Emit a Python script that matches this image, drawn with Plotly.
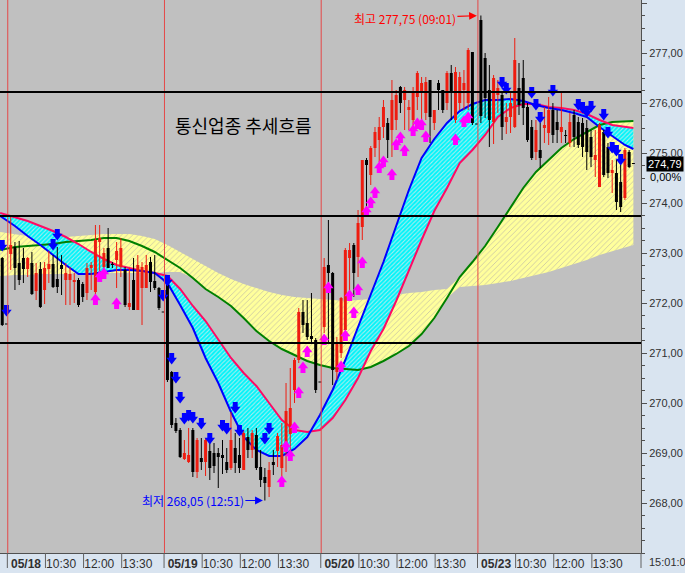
import plotly.graph_objects as go

# ---------------- data (10-minute bars; slot 0 = 05/18 09:00, 37 bars per day) ----------------
slots = list(range(-2, 148))

open_ = [
    272.90, 271.58,
    # 05/18
    272.98, 273.12, 272.80, 272.90, 272.68, 272.80, 272.24, 272.68, 272.26, 272.68, 272.78, 272.48,
    272.76, 272.46, 272.46, 272.42, 272.46, 272.38, 272.20, 272.70, 272.22, 273.22, 272.72, 273.10,
    272.78, 272.86, 272.72, 272.66, 271.92, 272.46, 271.86, 272.30, 272.30, 272.82, 272.44, 272.30, 271.82,
    # 05/19
    272.42, 270.62, 269.60, 269.46, 268.88, 268.82, 269.46, 268.62, 268.90, 268.82, 269.04, 269.00,
    269.00, 268.96, 268.82, 268.70, 269.10, 268.96, 268.66, 269.32, 269.06, 269.36, 268.72, 268.52,
    268.32, 268.82, 269.04, 268.70, 269.16, 269.38, 270.26, 270.86, 271.82, 271.60, 271.34, 271.26, 270.42,
    # 05/20
    271.52, 272.76, 272.60, 270.62, 271.00, 271.46, 272.90, 273.16, 272.92, 273.52, 274.86, 274.56,
    275.10, 275.26, 275.52, 275.60, 275.46, 275.66, 276.32, 276.06, 275.86, 275.66, 276.12, 276.20,
    275.80, 276.46, 275.60, 276.40, 276.26, 276.00, 276.60, 275.66, 276.00, 276.26, 276.00, 277.02, 275.58,
    # 05/23
    277.66, 276.90, 276.26, 275.62, 276.16, 276.16, 275.62, 275.72, 275.52, 276.30, 276.50, 275.92,
    275.52, 275.02, 275.06, 275.50, 275.40, 275.86, 275.62, 275.42, 275.36, 275.20, 275.76, 275.62,
    275.60, 275.50, 275.32, 274.86, 274.32, 275.42, 275.12, 274.60, 274.60, 274.42, 274.10, 275.02, 274.79,
]
high = [
    272.92, 271.58,
    273.72, 273.22, 273.24, 273.10, 272.92, 273.02, 272.80, 272.82, 272.82, 273.04, 272.96, 273.12,
    272.96, 272.80, 272.72, 272.60, 272.50, 272.42, 272.80, 272.82, 273.56, 273.56, 273.10, 273.50,
    272.82, 273.22, 273.30, 272.72, 272.70, 272.90, 272.96, 272.82, 272.96, 272.92, 272.96, 272.32, 271.82,
    272.46, 270.64, 269.70, 269.50, 269.26, 269.50, 269.50, 269.30, 269.30, 269.30, 269.30, 269.20,
    269.10, 269.26, 269.10, 269.82, 269.40, 269.30, 269.46, 269.50, 269.46, 269.50, 269.06, 268.70,
    268.82, 269.06, 269.40, 269.60, 270.40, 270.70, 270.90, 271.90, 272.06, 272.06, 272.20, 271.30, 270.42,
    272.90, 273.66, 272.62, 271.32, 272.12, 273.10, 273.20, 273.20, 273.86, 274.86, 274.90, 275.14,
    275.52, 275.72, 276.06, 275.70, 276.46, 276.26, 276.34, 276.32, 276.06, 276.32, 276.64, 276.52,
    276.52, 276.46, 275.86, 276.46, 276.26, 276.64, 276.76, 276.72, 276.62, 276.66, 277.10, 277.02, 275.58,
    277.75, 277.00, 276.76, 276.56, 276.46, 276.20, 276.00, 276.22, 277.30, 276.80, 276.86, 276.00,
    275.66, 275.66, 275.60, 275.92, 276.12, 276.00, 275.86, 276.20, 275.46, 275.80, 275.86, 275.72,
    275.70, 275.66, 275.46, 275.46, 275.60, 275.46, 275.20, 274.86, 274.86, 274.76, 275.10, 275.06, 274.79,
]
low = [
    271.54, 271.58,
    272.66, 272.26, 272.36, 272.40, 272.52, 272.16, 272.06, 271.90, 271.98, 272.40, 272.30, 272.20,
    272.16, 271.96, 271.96, 272.00, 271.92, 272.02, 272.06, 272.26, 272.16, 272.62, 272.52, 272.70,
    272.70, 272.30, 272.52, 271.92, 271.86, 271.86, 271.86, 271.56, 272.30, 272.22, 272.26, 271.86, 271.82,
    270.42, 269.50, 269.40, 268.90, 268.86, 268.80, 268.52, 268.50, 268.66, 268.54, 268.46, 268.60,
    268.30, 268.58, 268.60, 268.66, 268.60, 268.60, 268.66, 268.90, 268.90, 268.66, 268.32, 268.05,
    268.12, 268.56, 268.72, 268.36, 268.62, 268.90, 270.00, 270.80, 271.40, 271.26, 271.20, 270.20, 270.42,
    271.40, 271.20, 270.36, 270.46, 270.90, 271.30, 272.12, 272.12, 272.52, 273.26, 273.80, 274.36,
    274.92, 274.82, 275.30, 274.90, 274.92, 275.46, 275.80, 275.46, 275.46, 275.40, 275.86, 275.66,
    275.66, 275.20, 275.46, 275.86, 275.80, 275.86, 275.66, 275.60, 275.86, 275.86, 275.86, 275.56, 275.58,
    275.60, 275.70, 275.12, 275.18, 275.80, 275.26, 275.38, 275.40, 275.50, 275.76, 275.56, 275.22,
    274.86, 274.86, 274.70, 275.20, 275.16, 275.20, 275.20, 275.20, 275.20, 275.12, 275.12, 275.10,
    274.92, 274.66, 274.72, 274.52, 274.32, 274.52, 274.50, 274.20, 273.86, 273.82, 274.06, 274.70, 274.79,
]
close = [
    271.56, 271.58,
    273.16, 272.70, 272.46, 272.68, 272.90, 272.18, 272.60, 271.92, 272.70, 272.78, 272.32, 272.32,
    272.68, 272.60, 272.58, 272.46, 271.96, 272.12, 272.70, 272.76, 273.26, 273.30, 273.00, 272.70,
    272.76, 273.04, 273.10, 271.96, 272.00, 271.86, 272.76, 272.72, 272.76, 272.42, 272.30, 271.90, 271.82,
    270.46, 269.56, 269.44, 268.92, 269.00, 268.96, 268.62, 269.26, 268.82, 269.26, 268.70, 268.74,
    268.92, 268.90, 268.66, 269.26, 268.80, 268.70, 269.40, 269.06, 269.40, 268.70, 268.46, 268.40,
    268.66, 268.76, 269.34, 269.16, 269.84, 269.90, 270.86, 271.82, 271.56, 271.32, 271.28, 270.26, 270.42,
    272.72, 272.60, 270.66, 271.22, 272.10, 273.06, 273.06, 272.60, 273.60, 274.86, 274.76, 275.10,
    275.42, 275.52, 275.92, 275.26, 276.06, 276.16, 276.00, 276.26, 275.92, 276.20, 276.60, 276.40,
    276.42, 275.72, 275.86, 276.26, 275.86, 276.60, 276.20, 276.62, 276.52, 276.40, 277.06, 275.60, 275.58,
    275.74, 276.10, 275.66, 276.50, 276.30, 275.52, 275.72, 276.00, 276.86, 275.96, 275.90, 275.26,
    274.90, 275.46, 274.90, 275.56, 275.86, 275.36, 275.46, 275.52, 275.34, 275.62, 275.32, 275.16,
    275.12, 275.02, 274.92, 274.96, 275.56, 274.56, 274.60, 274.66, 274.02, 273.92, 275.06, 274.72, 274.79,
]

# indicator lines read at every third slot
line_x = [-2.5, 1, 4, 7, 10, 13, 16, 19, 22, 25, 28, 31, 34, 37, 40, 43, 46, 49, 52, 55, 58, 61, 64, 67,
          70, 73, 76, 79, 82, 85, 88, 91, 94, 97, 100, 103, 106, 109, 112, 115, 118, 121, 124, 127,
          130, 133, 136, 139, 142, 145, 147]
ma_red = [273.80, 273.72, 273.64, 273.54, 273.44, 273.32, 273.18, 273.02, 272.88, 272.76, 272.70, 272.64, 272.60,
          272.54, 272.28, 271.94, 271.64, 271.26, 270.90, 270.60, 270.34, 270.00, 269.66, 269.46, 269.42, 269.46,
          269.70, 270.06, 270.50, 271.04, 271.48, 272.04, 272.66, 273.26, 273.84, 274.30, 274.80, 275.06,
          275.36, 275.72, 275.90, 275.98, 275.98, 275.92, 275.90, 275.86, 275.78, 275.66, 275.56, 275.52,
          275.50]
ma_blue = [273.74, 273.54, 273.34, 273.16, 272.96, 272.76, 272.58, 272.58, 272.62, 272.66, 272.66, 272.64, 272.60,
           272.40, 271.96, 271.50, 270.90, 270.40, 269.82, 269.32, 269.06, 268.94, 268.94, 269.08, 269.32, 269.76,
           270.26, 270.86, 271.52, 272.18, 272.82, 273.54, 274.26, 274.90, 275.28, 275.60, 275.84, 275.98,
           276.06, 276.06, 276.08, 276.04, 275.96, 275.90, 275.86, 275.80, 275.72, 275.52, 275.34, 275.16,
           275.08]
ma_green = [273.06, 273.12, 273.14, 273.16, 273.18, 273.22, 273.24, 273.26, 273.30, 273.30, 273.24, 273.14, 273.02,
            272.86, 272.70, 272.50, 272.28, 272.12, 271.94, 271.70, 271.44, 271.24, 271.08, 270.96, 270.84, 270.76,
            270.70, 270.68, 270.66, 270.72, 270.84, 270.98, 271.14, 271.38, 271.70, 272.10, 272.52, 272.82,
            273.14, 273.52, 273.90, 274.30, 274.62, 274.86, 275.10, 275.28, 275.42, 275.56, 275.62, 275.64,
            275.64]
band_upper = [273.42, 273.38, 273.34, 273.30, 273.30, 273.32, 273.34, 273.36, 273.38, 273.38, 273.38, 273.34, 273.28,
              273.16, 273.02, 272.88, 272.74, 272.60, 272.48, 272.38, 272.30, 272.22, 272.16, 272.12, 272.10, 272.08,
              272.06, 272.04, 272.06, 272.08, 272.12, 272.16, 272.20, 272.22, 272.26, 272.28, 272.52, 272.82,
              273.14, 273.52, 273.90, 274.30, 274.62, 274.86, 275.10, 275.28, 275.42, 275.56, 275.62, 275.64,
              275.64]
band_lower = [272.54, 272.56, 272.56, 272.58, 272.58, 272.58, 272.60, 272.60, 272.60, 272.60, 272.60, 272.60, 272.60,
              272.62, 272.62, 272.50, 272.28, 272.12, 271.94, 271.70, 271.44, 271.24, 271.08, 270.96, 270.84, 270.76,
              270.70, 270.68, 270.66, 270.72, 270.84, 270.98, 271.14, 271.38, 271.70, 272.10, 272.32, 272.34,
              272.36, 272.40, 272.44, 272.50, 272.56, 272.62, 272.70, 272.78, 272.86, 272.96, 273.04, 273.12,
              273.16]

# signals
sell_x = [-2, -1, 10, 11, 36, 37, 38, 39, 40, 41, 42, 43, 45, 47, 50, 51, 53, 54, 60, 61,
          116, 117, 123, 124, 125, 128, 134, 135, 136, 137, 140, 141, 142, 143, 144]
sell_y = [273.16, 271.86, 273.18, 273.38, 272.16, 272.46, 270.90, 270.52, 270.12, 269.70, 269.76, 269.72,
          269.60, 269.30, 269.56, 269.50, 269.92, 269.46, 269.30, 269.50,
          276.42, 276.30, 276.22, 275.98, 275.72, 276.26, 275.98, 275.92, 275.84, 275.94, 275.78, 275.42,
          275.12, 275.06, 274.88]
buy_x = [20, 21, 22, 25, 64, 65, 66, 67, 68, 69, 70, 74, 75, 78, 79, 80, 81, 82, 83, 84, 85, 86, 87, 88,
         90, 91, 92, 93, 95, 96, 97, 98, 105, 107, 108]
buy_y = [272.06, 272.52, 272.58, 271.98, 268.42, 269.12, 268.94, 269.50, 270.20, 270.70, 271.02, 271.26,
         272.30, 270.72, 271.34, 272.14, 271.80, 272.26, 272.80, 273.82, 274.00, 274.20, 274.70, 274.82,
         274.56, 275.16, 275.30, 275.04, 275.44, 275.58, 275.56, 275.32, 275.26, 275.62, 275.70]

level_lines = [276.22, 273.74, 271.20]
day_labels = ["05/18", "05/19", "05/20", "05/23"]
time_labels = ["10:30", "12:00", "13:30"]
price_ticks = [268, 269, 270, 271, 272, 273, 274, 275, 276, 277, 278]
title_text = "통신업종 추세흐름"
high_time, low_time = "09:01", "12:51"
last_price, last_change = 274.79, "0,00%"
clock_text = "15:01:0"

# ---------------- figure ----------------
BARS = 37
Y0, Y1 = 267.0, 278.06
X0, X1 = -2.53, 148.8
PLOT_H = 553
ppp = (Y1 - Y0) / PLOT_H

fig = go.Figure()
nol = dict(width=0, color="rgba(0,0,0,0)")

fig.add_trace(go.Scatter(x=line_x, y=band_upper, mode="lines", line=nol, hoverinfo="skip"))
fig.add_trace(go.Scatter(x=line_x, y=band_lower, mode="lines", line=nol, fill="tonexty",
                         fillpattern=dict(shape="/", bgcolor="#ffff9c", fgcolor="#c8c4a4", size=4, solidity=0.2),
                         hoverinfo="skip"))
fig.add_trace(go.Scatter(x=line_x, y=ma_red, mode="lines", line=nol, hoverinfo="skip"))
fig.add_trace(go.Scatter(x=line_x, y=ma_blue, mode="lines", line=nol, fill="tonexty",
                         fillpattern=dict(shape="/", bgcolor="#00f4fa", fgcolor="#a8eeee", size=3, solidity=0.35),
                         hoverinfo="skip"))

fig.add_trace(go.Scatter(x=line_x, y=ma_green, mode="lines", line=dict(color="#008000", width=2)))
fig.add_trace(go.Scatter(x=line_x, y=ma_red, mode="lines", line=dict(color="#ff0a64", width=2)))
fig.add_trace(go.Scatter(x=line_x, y=ma_blue, mode="lines", line=dict(color="#0000ff", width=2)))

# candles
parts = {k: ([], []) for k in ("rw", "rb", "kw", "kb")}
for s, o, h, l, c in zip(slots, open_, high, low, close):
    up = c > o
    w = parts["rw" if up else "kw"]
    b = parts["rb" if up else "kb"]
    w[0].extend([s, s, None]); w[1].extend([l, h, None])
    lo, hi = min(o, c), max(o, c)
    if hi - lo < ppp:
        m = (hi + lo) / 2
        lo, hi = m - ppp / 2, m + ppp / 2
    b[0].extend([s, s, None]); b[1].extend([lo, hi, None])

RED = "#ee1c10"
for key, col, wdt in (("rw", RED, 1), ("kw", "#000000", 1), ("rb", RED, 3), ("kb", "#000000", 3)):
    fig.add_trace(go.Scatter(x=parts[key][0], y=parts[key][1], mode="lines",
                             line=dict(color=col, width=wdt), connectgaps=False, hoverinfo="skip"))

# signal arrows (shaft + head)
fig.add_trace(go.Scatter(x=sell_x, y=[v + 2.5 * ppp for v in sell_y], mode="markers",
                         marker=dict(symbol="square", size=5, color="#0000ff", line=dict(width=0))))
fig.add_trace(go.Scatter(x=sell_x, y=[v - 2 * ppp for v in sell_y], mode="markers",
                         marker=dict(symbol="triangle-down", size=9, color="#0000ff", line=dict(width=0))))
fig.add_trace(go.Scatter(x=buy_x, y=[v - 2.5 * ppp for v in buy_y], mode="markers",
                         marker=dict(symbol="square", size=5, color="#ff00ff", line=dict(width=0))))
fig.add_trace(go.Scatter(x=buy_x, y=[v + 2 * ppp for v in buy_y], mode="markers",
                         marker=dict(symbol="triangle-up", size=9, color="#ff00ff", line=dict(width=0))))

shapes = []
for d in range(len(day_labels)):
    shapes.append(dict(type="line", xref="x", yref="paper", x0=d * BARS - 0.7, x1=d * BARS - 0.7,
                       y0=0, y1=1, line=dict(color="#e44848", width=1), layer="above"))
for lv in level_lines:
    shapes.append(dict(type="line", xref="paper", yref="y", x0=0, x1=1, y0=lv, y1=lv,
                       line=dict(color="#000000", width=2), layer="above"))

tickvals, ticktext = [], []
for d, dl in enumerate(day_labels):
    for j, idx in enumerate((0, 9, 18, 27)):
        sep = d * BARS + idx - 0.8
        shapes.append(dict(type="line", xref="x", yref="paper", x0=sep, x1=sep, y0=0, y1=-15 / PLOT_H,
                           line=dict(color="#606060", width=1)))
        if j == 0:
            tickvals.append(sep + 4.4); ticktext.append("<b>" + dl + "</b>")
        else:
            tickvals.append(sep + 3.7); ticktext.append(time_labels[j - 1])
shapes.append(dict(type="line", xref="paper", yref="paper", x0=1, x1=1, y0=0, y1=-15 / PLOT_H,
                   line=dict(color="#606060", width=1)))

fmt = lambda v: f"{v:.2f}".replace(".", ",")
hi_i = max(range(len(high)), key=lambda i: high[i])
lo_i = min(range(len(low)), key=lambda i: low[i])

KFONT = "Noto Sans CJK KR"
NFONT = "Liberation Sans, Arial, sans-serif"
annotations = [
    dict(x=54.9, y=275.56, xref="x", yref="y", text=title_text, showarrow=False,
         font=dict(family=KFONT, size=18, color="#000000")),
    dict(x=slots[hi_i], y=high[hi_i], xref="x", yref="y", text=f"최고 {fmt(high[hi_i])} ({high_time})",
         showarrow=True, ax=-76, ay=3, arrowhead=2, arrowsize=1.3, arrowwidth=1.2, arrowcolor="#ff0000",
         standoff=4, font=dict(family=KFONT, size=12, color="#ff0000")),
    dict(x=slots[lo_i], y=low[lo_i], xref="x", yref="y", text=f"최저 {fmt(low[lo_i])} ({low_time})",
         showarrow=True, ax=-72, ay=0, arrowhead=2, arrowsize=1.3, arrowwidth=1.2, arrowcolor="#0000ff",
         standoff=2, font=dict(family=KFONT, size=12, color="#0000ff")),
    dict(x=1.008, y=last_price, xref="paper", yref="y", xanchor="left", yanchor="middle",
         text=fmt(last_price), showarrow=False, bgcolor="#000000", borderpad=1,
         font=dict(family=NFONT, size=11, color="#ffffff")),
    dict(x=1.011, y=last_price - 0.27, xref="paper", yref="y", xanchor="left", yanchor="middle",
         text=last_change, showarrow=False, font=dict(family=NFONT, size=11, color="#000000")),
    dict(x=1.009, y=-9 / PLOT_H, xref="paper", yref="paper", xanchor="left", yanchor="middle",
         text=clock_text, showarrow=False, font=dict(family=NFONT, size=11, color="#303030")),
]

fig.update_layout(
    template="none",
    width=685, height=573,
    margin=dict(l=0, r=44, t=0, b=20, pad=0),
    paper_bgcolor="#d9e4f0", plot_bgcolor="#c0c0c0",
    showlegend=False, hovermode=False,
    shapes=shapes, annotations=annotations,
    xaxis=dict(range=[X0, X1], showgrid=False, zeroline=False, automargin=False,
               tickmode="array", tickvals=tickvals, ticktext=ticktext, ticks="",
               showline=True, linecolor="#505050", linewidth=1,
               tickfont=dict(family=NFONT, size=12, color="#303030")),
    yaxis=dict(range=[Y0, Y1], side="right", showgrid=False, zeroline=False, automargin=False,
               tickmode="array", tickvals=price_ticks, ticktext=[fmt(v) for v in price_ticks],
               ticks="outside", ticklen=5, tickcolor="#505050", showline=True, linecolor="#505050",
               minor=dict(tickmode="linear", tick0=0, dtick=0.25, ticks="outside", ticklen=3,
                          tickcolor="#505050"),
               tickfont=dict(family=NFONT, size=11, color="#303030")),
)

fig.write_html("out.html", config={"staticPlot": True},
               post_script="document.body.style.margin='0px';document.body.style.overflow='hidden';")
